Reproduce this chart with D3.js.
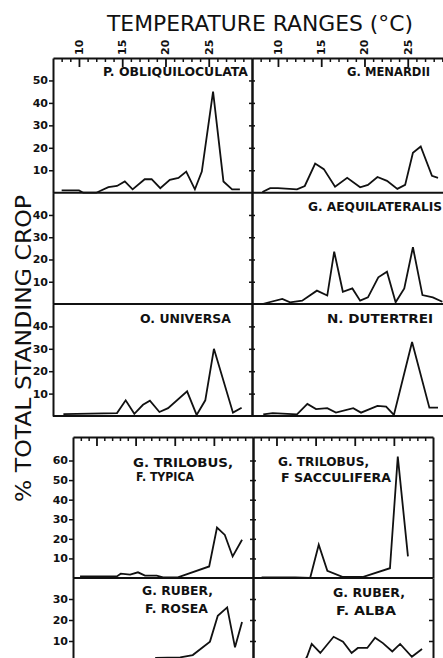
<!DOCTYPE html>
<html>
<head>
<meta charset="utf-8">
<script src="https://cdn.jsdelivr.net/npm/d3@7"></script>
<style>
body { margin: 0; background: #fff; }
svg { display: block; }
.ax path, .ax line { stroke: #111; }
.ax text { display: none; }
text { fill: #111; font-family: "DejaVu Sans", sans-serif; }
</style>
</head>
<body>
<script>
var w = 443,
    h = 658;

// temperature (deg C) axis
var tempDomain = [7, 30];
var majorTicks = [10, 15, 20, 25];
var minorTicks = [8, 9, 11, 12, 13, 14, 16, 17, 18, 19, 21, 22, 23, 24, 26, 27, 28, 29];

// % total standing crop, per row of panels
var rowMax = [60, 50, 50, 72, 40];
var rowTicks = [
    [10, 20, 30, 40, 50],
    [10, 20, 30, 40],
    [10, 20, 30, 40],
    [10, 20, 30, 40, 50, 60],
    [10, 20, 30]
];

// [temperature, % standing crop]
var obliquiloculata = [[8, 1], [10, 1], [10.5, 0], [12, 0], [13.4, 2.5], [14.4, 3], [15.3, 5],
    [16.2, 1.5], [17.6, 6], [18.4, 6], [19.4, 2], [20.5, 5.7], [21.5, 6.6], [22.4, 9.4],
    [23.4, 1.5], [24.2, 9.4], [25.5, 45], [26.7, 5], [27.7, 1.5], [28.6, 1.5]];
var menardii = [[8.2, 0.3], [9.1, 2], [10, 2], [12.2, 1.5], [13.1, 3], [14.3, 13], [15.3, 10.5],
    [16.6, 2.7], [18, 6.6], [19.5, 2.4], [20.4, 3.5], [21.5, 7], [22.6, 5.3], [23.8, 1.7],
    [24.7, 3.5], [25.6, 17.8], [26.5, 20.6], [27.8, 7.5], [28.5, 6.6]];
var emptyPanel = [];
var aequilateralis = [[8.2, 0], [10.5, 2.3], [11.4, 0.7], [12.8, 1.5], [14.5, 6], [15.7, 3.8],
    [16.5, 23.5], [17.5, 5.5], [18.6, 7], [19.5, 1.5], [20.4, 3], [21.6, 12], [22.6, 14.5],
    [23.6, 0.8], [24.6, 7], [25.6, 25.5], [26.7, 4], [27.9, 3], [29, 1]];
var universa = [[8.2, 0.8], [14.4, 1.3], [15.4, 7], [16.4, 1], [17.4, 5], [18.2, 6.8], [19.3, 1.8],
    [20.3, 3.5], [22.5, 11], [23.6, 0.5], [24.6, 7], [25.6, 30], [27.8, 1.5], [28.8, 3.7]];
var dutertrei = [[8.3, 0.7], [9.4, 1.3], [12.2, 0.7], [13.4, 5.4], [14.4, 3.1], [15.7, 3.5],
    [16.7, 1.5], [18.7, 3.5], [19.6, 1.5], [21.5, 4.5], [22.5, 4.2], [23.4, 0.5], [25.5, 33],
    [27.5, 3.7], [28.5, 3.7]];
var typica = [[7.9, 0.8], [12.6, 0.8], [13.1, 2.2], [14.3, 1.7], [15.3, 2.9], [16.2, 1.2],
    [17.7, 1.2], [18.5, 0.3], [20.4, 0.3], [24.4, 5.9], [25.4, 25.8], [26.4, 22], [27.4, 11],
    [28.6, 19.5]];
var sacculifera = [[8.1, 0.3], [12.4, 0.3], [14.3, 0], [15.4, 17], [16.5, 3.7], [18.5, 0.5],
    [21, 0.5], [24.5, 5], [25.5, 62], [26.8, 11]];
var rosea = [[17.5, 2], [20.7, 2.2], [22.3, 3.3], [24.5, 9.7], [25.5, 22], [26.7, 26], [27.7, 7],
    [28.6, 19]];
var alba = [[13.5, 0], [13.9, 2.5], [14.5, 8.6], [15.6, 4.3], [17.3, 12], [18.5, 9.7], [19.6, 4.3],
    [20.4, 6.7], [21.6, 6.7], [22.6, 11.6], [23.6, 9], [24.8, 5], [25.8, 8.6], [27.3, 2.5],
    [28.6, 6.2]];

var speciesNames = [
    ["P. OBLIQUILOCULATA"], ["G. MENARDII"],
    [], ["G. AEQUILATERALIS"],
    ["O. UNIVERSA"], ["N. DUTERTREI"],
    ["G. TRILOBUS,", "F. TYPICA"], ["G. TRILOBUS,", "F SACCULIFERA"],
    ["G. RUBER,", "F. ROSEA"], ["G. RUBER,", "F. ALBA"]
];
var seriesList = [obliquiloculata, menardii, emptyPanel, aequilateralis, universa, dutertrei,
    typica, sacculifera, rosea, alba];

// layout
var sections = [
    {x0: 53, pw: 199, top: 58, rows: [0, 1, 2]},
    {x0: 73, pw: 180, top: 437, rows: [3, 4]}
];
var rows = [
    {sec: 0, top: 58, base: 192.7},
    {sec: 0, top: 192.7, base: 304},
    {sec: 0, top: 304, base: 416},
    {sec: 1, top: 437, base: 578},
    {sec: 1, top: 578, base: 662}
];
// label placement: [x, first line centre y, line gap, widths]
var labelPos = [
    [103, 72, 0, [145]], [347, 72, 0, [83]],
    [0, 0, 0, []], [308, 207, 0, [134]],
    [140, 319, 0, [91]], [327, 319, 0, [106]],
    [133, 463, 14, [100, 58]], [278, 462, 16, [91, 110]],
    [142, 591, 18, [71, 63]], [333, 593, 18, [72, 60]]
];

var svg = d3.select("body").append("svg")
    .attr("width", w)
    .attr("height", h);

function xScale(sec, col) {
    var s = sections[sec];
    var x0 = s.x0 + col * s.pw;
    return d3.scaleLinear().domain(tempDomain).range([x0, x0 + s.pw]);
}

function yScale(r) {
    return d3.scaleLinear().domain([0, rowMax[r]]).range([rows[r].base, rows[r].top]);
}

// frames, axes
sections.forEach(function(s, si) {
    [0, 1].forEach(function(col) {
        var x = xScale(si, col);
        svg.append("g").attr("class", "ax")
            .attr("transform", "translate(0," + s.top + ")")
            .call(d3.axisBottom(x).tickValues(minorTicks).tickSize(4).tickSizeOuter(0))
            .call(function(g) {
                g.select(".domain").attr("stroke-width", 2);
                g.selectAll(".tick line").attr("stroke-width", 1.5);
            });
        svg.append("g").attr("class", "ax")
            .attr("transform", "translate(0," + s.top + ")")
            .call(d3.axisBottom(x).tickValues(majorTicks).tickSize(9).tickSizeOuter(0))
            .call(function(g) {
                g.select(".domain").remove();
                g.selectAll(".tick line").attr("stroke-width", 1.8);
            });
        if (si === 0) {
            svg.selectAll(null)
                .data(majorTicks)
                .enter().append("text")
                .attr("transform", function(d) { return "translate(" + x(d) + "," + (s.top - 3) + ") rotate(-90)"; })
                .attr("dy", "0.36em")
                .style("font-size", "11px")
                .style("font-weight", "bold")
                .text(function(d) { return d; });
        }
    });

    s.rows.forEach(function(r) {
        var y = yScale(r);
        var xl = xScale(si, 0), xr = xScale(si, 1);

        // left axis with labels
        var gl = svg.append("g").attr("class", "ax")
            .attr("transform", "translate(" + xl.range()[0] + ",0)")
            .call(d3.axisLeft(y).tickValues(rowTicks[r]).tickSize(4).tickSizeOuter(0));
        gl.select(".domain").attr("stroke-width", 2);
        gl.selectAll(".tick line").attr("stroke-width", 1.5);
        svg.selectAll(null)
            .data(rowTicks[r])
            .enter().append("text")
            .attr("x", xl.range()[0] - 5)
            .attr("y", function(d) { return y(d); })
            .attr("dy", "0.36em")
            .attr("text-anchor", "end")
            .style("font-size", "11px")
            .style("font-weight", "bold")
            .text(function(d) { return d; });

        // middle divider, ticks crossing it
        [d3.axisLeft, d3.axisRight].forEach(function(ax) {
            var g = svg.append("g").attr("class", "ax")
                .attr("transform", "translate(" + xr.range()[0] + ",0)")
                .call(ax(y).tickValues(rowTicks[r]).tickSize(3).tickSizeOuter(0));
            g.select(".domain").attr("stroke-width", 2);
            g.selectAll(".tick line").attr("stroke-width", 1.5);
        });

        // right frame of the lower block
        if (si === 1) {
            var g = svg.append("g").attr("class", "ax")
                .attr("transform", "translate(" + xr.range()[1] + ",0)")
                .call(d3.axisLeft(y).tickValues(rowTicks[r]).tickSize(4).tickSizeOuter(0));
            g.select(".domain").attr("stroke-width", 2);
            g.selectAll(".tick line").attr("stroke-width", 1.5);
        }

        // zero line
        svg.append("line")
            .attr("x1", xl.range()[0])
            .attr("x2", xr.range()[1])
            .attr("y1", rows[r].base)
            .attr("y2", rows[r].base)
            .attr("stroke", "#111")
            .attr("stroke-width", 2);
    });
});

// curves and species labels
seriesList.forEach(function(series, i) {
    var r = Math.floor(i / 2), col = i % 2;
    var x = xScale(rows[r].sec, col);
    var y = yScale(r);
    var line = d3.line()
        .x(function(d) { return x(d[0]); })
        .y(function(d) { return y(d[1]); });
    svg.append("path")
        .datum(series)
        .attr("d", line)
        .attr("fill", "none")
        .attr("stroke", "#111")
        .attr("stroke-width", 1.8)
        .attr("stroke-linejoin", "miter");

    var lp = labelPos[i];
    speciesNames[i].forEach(function(t, k) {
        svg.append("text")
            .attr("x", lp[0] + (k ? 3 : 0))
            .attr("y", lp[1] + k * lp[2])
            .attr("dy", "0.36em")
            .attr("textLength", lp[3][k])
            .attr("lengthAdjust", "spacingAndGlyphs")
            .style("font-size", "11.5px")
            .style("font-weight", "bold")
            .text(t);
    });
});

// titles
svg.append("text")
    .attr("x", 107)
    .attr("y", 31)
    .attr("textLength", 306)
    .attr("lengthAdjust", "spacingAndGlyphs")
    .style("font-size", "21px")
    .text("TEMPERATURE RANGES (\u00B0C)");

svg.append("text")
    .attr("transform", "translate(31,502) rotate(-90)")
    .attr("textLength", 307)
    .attr("lengthAdjust", "spacingAndGlyphs")
    .style("font-size", "22px")
    .text("% TOTAL STANDING CROP");
</script>
</body>
</html>
